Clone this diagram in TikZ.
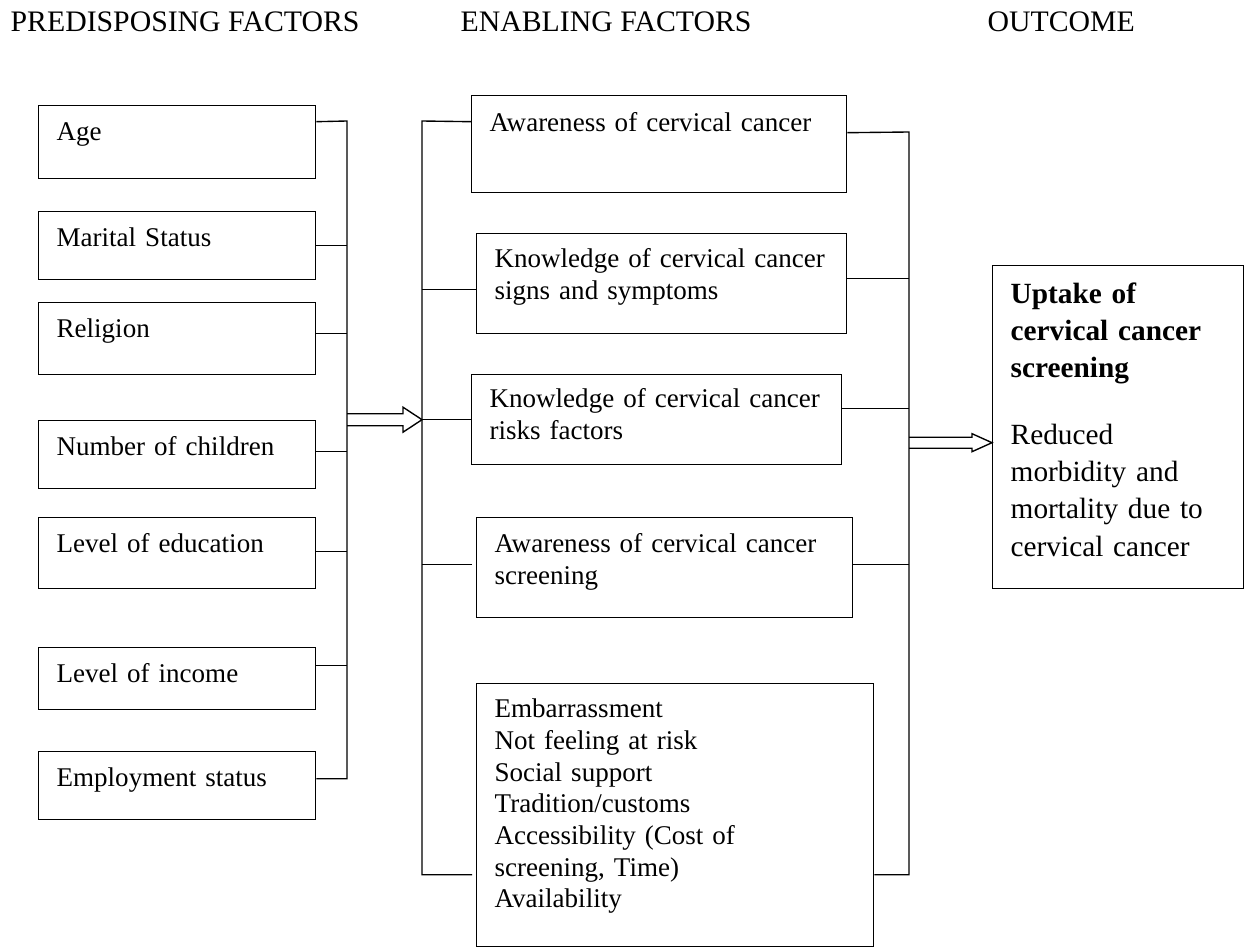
\documentclass[tikz,border=0pt]{standalone}
\usepackage{fontspec}
\setmainfont{Liberation Serif}
\usetikzlibrary{calc}

\newcommand{\pxu}{0.4367pt}

\begin{document}
\begin{tikzpicture}[x=\pxu,y=-\pxu,line width=0.6pt,
    factor/.style={draw, anchor=north west, inner xsep=18*\pxu, inner ysep=0pt,
      text height=35*\pxu, font=\fontsize{11.8}{13.85}\selectfont},
    head/.style={anchor=base west, inner sep=0pt, font=\fontsize{13}{15}\selectfont},
    hollow/.style={line join=miter}]
  \useasboundingbox (0,0) rectangle (1248,948);

  % headings
  \node[head] (hpre) at (10,32) {PREDISPOSING FACTORS};
  \node[head] (hena) at (460,32) {ENABLING FACTORS};
  \node[head] (hout) at (987,32) {OUTCOME};

  % predisposing factors
  \node[factor, text width=241*\pxu, text depth=38*\pxu] (age) at (38,105) {Age};
  \node[factor, text width=241*\pxu, text depth=33*\pxu] (marital) at (38,211) {Marital Status};
  \node[factor, text width=241*\pxu, text depth=37*\pxu] (religion) at (38,302) {Religion};
  \node[factor, text width=241*\pxu, text depth=33*\pxu] (children) at (38,420) {Number of children};
  \node[factor, text width=241*\pxu, text depth=36*\pxu] (education) at (38,517) {Level of education};
  \node[factor, text width=241*\pxu, text depth=27*\pxu] (income) at (38,647) {Level of income};
  \node[factor, text width=241*\pxu, text depth=33*\pxu] (employ) at (38,751) {Employment status};

  % enabling factors
  \node[factor, text width=339*\pxu, text height=36*\pxu, text depth=61*\pxu] (awcc) at (471,95)
    {Awareness of cervical cancer};
  \node[factor, text width=334*\pxu, text height=34*\pxu, text depth=66*\pxu] (knsig) at (476,233)
    {Knowledge of cervical cancer\\signs and symptoms};
  \node[factor, text width=334*\pxu, text height=33*\pxu, text depth=57*\pxu] (knrisk) at (471,374)
    {Knowledge of cervical cancer\\risks factors};
  \node[factor, text width=340*\pxu, text depth=65*\pxu] (awscr) at (476,517)
    {Awareness of cervical cancer\\screening};
  \node[factor, text width=361*\pxu, text height=34*\pxu, text depth=229*\pxu] (barrier) at (476,683)
    {Embarrassment\\Not feeling at risk\\Social support\\Tradition/customs\\Accessibility (Cost of\\screening, Time)\\Availability};

  % outcome
  \node[factor, text width=215*\pxu, text height=38*\pxu, text depth=285*\pxu,
    font=\fontsize{12.8}{16.2}\selectfont] (outcome) at (992,265)
    {\textbf{Uptake of}\\\textbf{cervical cancer}\\\textbf{screening}\\[13pt]Reduced\\morbidity and\\mortality due to\\cervical cancer};

  % left bus
  \coordinate (lbus) at (347,121);
  \draw ([yshift=20.5*\pxu]age.east) -- (lbus) |- ([yshift=7*\pxu]employ.east);
  \draw (marital.east) -- (marital.east -| lbus);
  \draw ([yshift=5*\pxu]religion.east) -- ([yshift=5*\pxu]religion.east -| lbus);
  \draw ([yshift=3*\pxu]children.east) -- ([yshift=3*\pxu]children.east -| lbus);
  \draw ([yshift=1.5*\pxu]education.east) -- ([yshift=1.5*\pxu]education.east -| lbus);
  \draw ([yshift=13*\pxu]income.east) -- ([yshift=13*\pxu]income.east -| lbus);

  % middle bus, left side
  \coordinate (mbus) at (422,121);
  \draw[shorten >=4*\pxu] ([yshift=22.5*\pxu]awcc.west) -- (mbus) |- ([yshift=-59.5*\pxu]barrier.west);
  \draw ([yshift=-6*\pxu]knsig.west) -- ([yshift=-6*\pxu]knsig.west -| mbus);
  \draw (knrisk.west) -- (knrisk.west -| mbus);
  \draw[shorten <=4*\pxu] ([yshift=3*\pxu]awscr.west) -- ([yshift=3*\pxu]awscr.west -| mbus);

  % middle bus, right side
  \coordinate (rbus) at (909,132);
  \draw ([yshift=11.5*\pxu]awcc.east) -- (rbus) |- ([yshift=-59.5*\pxu]barrier.east);
  \draw ([yshift=5*\pxu]knsig.east) -- ([yshift=5*\pxu]knsig.east -| rbus);
  \draw ([yshift=11*\pxu]knrisk.east) -- ([yshift=11*\pxu]knrisk.east -| rbus);
  \draw ([yshift=3*\pxu]awscr.east) -- ([yshift=3*\pxu]awscr.east -| rbus);

  % hollow arrows
  \coordinate (a1s) at (lbus |- knrisk.west);
  \coordinate (a1t) at (mbus |- knrisk.west);
  \draw[hollow] ($(a1s)+(0,-6)$) -- ($(a1t)+(-19,-6)$) -- ($(a1t)+(-19,-12.5)$) -- (a1t)
    -- ($(a1t)+(-19,12.5)$) -- ($(a1t)+(-19,6)$) -- ($(a1s)+(0,6)$);
  \coordinate (a2t) at ([yshift=-15.5*\pxu]outcome.west);
  \coordinate (a2s) at (rbus |- a2t);
  \draw[hollow] ($(a2s)+(0,-5.5)$) -- ($(a2t)+(-20,-5.5)$) -- ($(a2t)+(-20,-9)$) -- (a2t)
    -- ($(a2t)+(-20,9)$) -- ($(a2t)+(-20,5.5)$) -- ($(a2s)+(0,5.5)$);
\end{tikzpicture}
\end{document}
